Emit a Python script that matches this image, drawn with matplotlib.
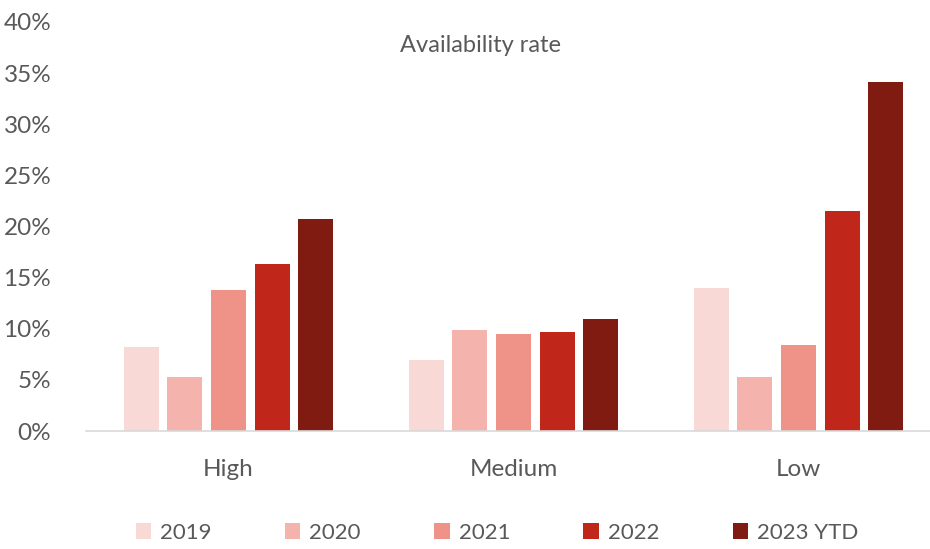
import numpy as np
import matplotlib.pyplot as plt

plt.rcParams['font.family'] = ['Lato', 'DejaVu Sans']

# 数据
categories = ['High', 'Medium', 'Low']
series = ['2019', '2020', '2021', '2022', '2023 YTD']
values = {
    '2019': [8.2, 6.9, 14.0],
    '2020': [5.3, 9.9, 5.3],
    '2021': [13.8, 9.5, 8.4],
    '2022': [16.3, 9.7, 21.5],
    '2023 YTD': [20.7, 11.0, 34.1],
}
colors = ['#F8D9D5', '#F4B3AD', '#EF9288', '#C0271A', '#7F1B11']
yticks = [0, 5, 10, 15, 20, 25, 30, 35, 40]

fig = plt.figure(figsize=(9.3, 5.49), dpi=100)
ax = fig.add_axes([86 / 930, 1 - 431 / 549, (930 - 86) / 930, (431 - 22) / 549])

x = np.arange(len(categories))
pitch = 0.153
width = 0.123
for i, s in enumerate(series):
    ax.bar(x + (i - 2) * pitch, values[s], width=width, color=colors[i], label=s)

ax.set_xlim(-0.5, 2.5 - 11 / 285)
ax.set_ylim(0, 40)
ax.set_yticks(yticks)
ax.set_yticklabels([f'{t}%' for t in yticks])
ax.set_xticks(x)
ax.set_xticklabels(categories)
ax.tick_params(axis='both', length=0, labelsize=17.5, colors='#595959')
ax.tick_params(axis='x', pad=20)
ax.tick_params(axis='y', pad=25)
for sp in ['top', 'right', 'left']:
    ax.spines[sp].set_visible(False)
ax.spines['bottom'].set_color('#D9D9D9')
ax.spines['bottom'].set_linewidth(1.2)

fig.text(480 / 930, 1 - 45 / 549, 'Availability rate', ha='center', va='center',
         fontsize=17, color='#595959')

fig.legend(loc='center', bbox_to_anchor=(497 / 930, 1 - 533 / 549), ncol=5,
           frameon=False, fontsize=16, labelcolor='#595959',
           handlelength=0.7, handleheight=0.7, handletextpad=0.4, columnspacing=3.3)

plt.savefig('out.png', dpi=100)
